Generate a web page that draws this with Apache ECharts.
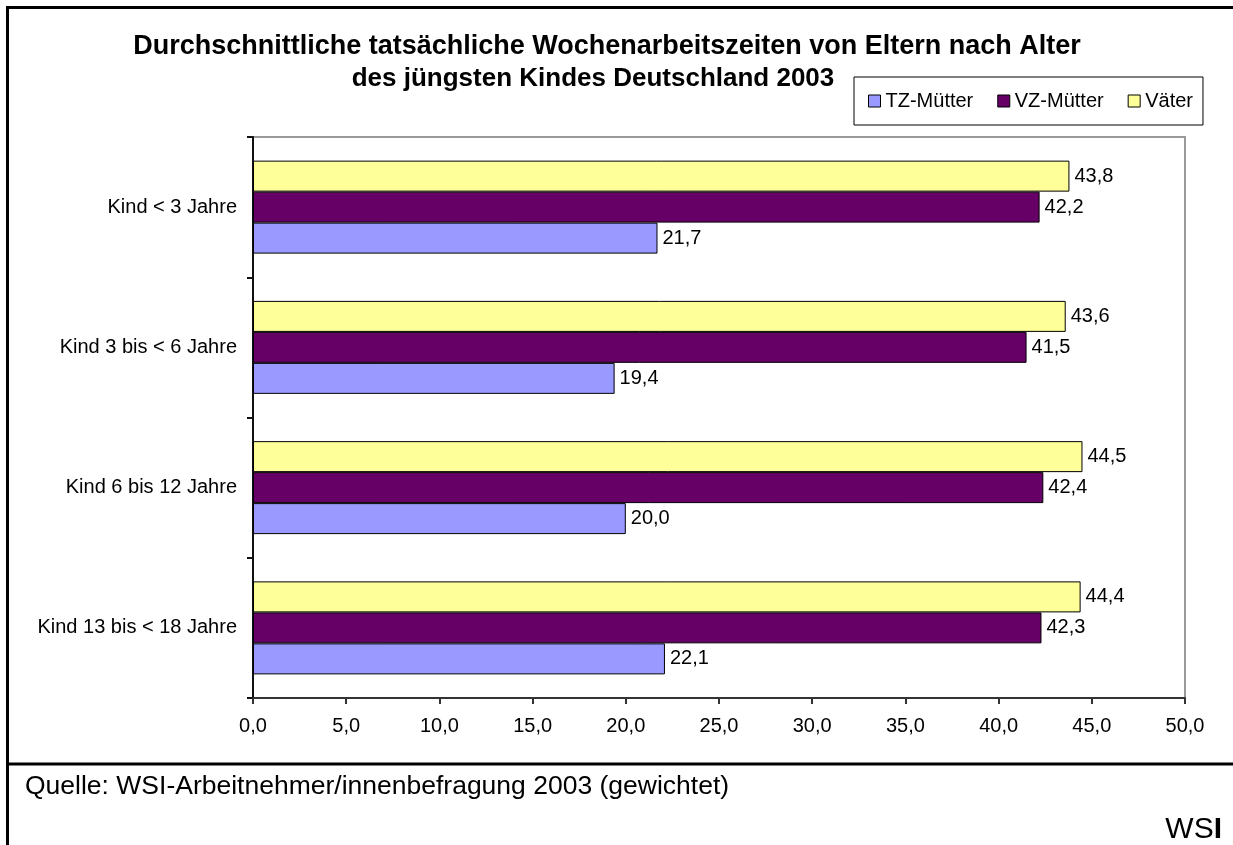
<!DOCTYPE html>
<html>
<head>
<meta charset="utf-8">
<title>Wochenarbeitszeiten von Eltern 2003</title>
<script src="https://cdn.jsdelivr.net/npm/echarts@6/dist/echarts.min.js"></script>
<style>
  html,body{margin:0;padding:0;background:#fff;}
  #chart{width:1233px;height:845px;}
</style>
</head>
<body>
<div id="chart"></div>
<script>
// Daten
const categories=['Kind < 3 Jahre','Kind 3 bis < 6 Jahre','Kind 6 bis 12 Jahre','Kind 13 bis < 18 Jahre']
const tzMuetter=[21.7,19.4,20.0,22.1]
const vzMuetter=[42.2,41.5,42.4,42.3]
const vaeter=[43.8,43.6,44.5,44.4]
const legendNames=['TZ-Mütter','VZ-Mütter','Väter']
const xTicks=[0,5,10,15,20,25,30,35,40,45,50]

const font='"Liberation Sans", Arial, sans-serif'
const fmt=v=>Number(v).toFixed(1).replace('.',',')

let chartInstance=echarts.init(document.getElementById('chart'))

let labelStyle={
  show:true,
  position:'right',
  distance:5,
  color:'#000',
  fontSize:20,
  fontFamily:font,
  formatter:p=>fmt(p.value)
}

let option={
  backgroundColor:'#fff',
  animation:false,
  grid:{
    left:253,
    right:48,
    top:137,
    bottom:147,
    show:true,
    borderColor:'#999',
    borderWidth:2
  },
  legend:{
    data:legendNames,
    left:854,
    top:77,
    padding:[14,10,14,14],
    itemGap:24,
    itemWidth:12,
    itemHeight:12,
    icon:'rect',
    borderColor:'#000',
    borderWidth:1,
    itemStyle:{borderColor:'#000',borderWidth:1},
    textStyle:{fontSize:20,fontFamily:font,color:'#000',lineHeight:20}
  },
  xAxis:{
    type:'value',
    min:xTicks[0],
    max:xTicks[xTicks.length-1],
    interval:xTicks[1]-xTicks[0],
    axisLine:{show:true,lineStyle:{color:'#333',width:2}},
    axisTick:{show:true,length:6,lineStyle:{color:'#333',width:2}},
    splitLine:{show:false},
    axisLabel:{fontSize:20,fontFamily:font,color:'#000',margin:18,formatter:fmt}
  },
  yAxis:{
    type:'category',
    inverse:true,
    data:categories,
    axisLine:{show:true,lineStyle:{color:'#111',width:2}},
    axisTick:{show:true,length:6,lineStyle:{color:'#111',width:2}},
    axisLabel:{fontSize:20,fontFamily:font,color:'#000',margin:16}
  },
  // erste Serie liegt oben in der Gruppe
  series:[
    {
      name:'Väter',
      type:'bar',
      data:vaeter,
      barGap:'0%',
      barCategoryGap:'33.7%',
      itemStyle:{color:'#FFFF99',borderColor:'#000',borderWidth:1},
      label:labelStyle
    },
    {
      name:'VZ-Mütter',
      type:'bar',
      data:vzMuetter,
      barGap:'0%',
      barCategoryGap:'33.7%',
      itemStyle:{color:'#660066',borderColor:'#000',borderWidth:1},
      label:labelStyle
    },
    {
      name:'TZ-Mütter',
      type:'bar',
      data:tzMuetter,
      barGap:'0%',
      barCategoryGap:'33.7%',
      itemStyle:{color:'#9999FF',borderColor:'#000',borderWidth:1},
      label:labelStyle
    }
  ],
  graphic:[
    // Rahmen links und oben
    {type:'line',shape:{x1:7.5,y1:7,x2:7.5,y2:845},style:{stroke:'#000',lineWidth:3}},
    {type:'line',shape:{x1:6,y1:7.5,x2:1233,y2:7.5},style:{stroke:'#000',lineWidth:3}},
    // Trennlinie über der Quelle
    {type:'line',shape:{x1:6,y1:764,x2:1233,y2:764},style:{stroke:'#000',lineWidth:3}},
    {
      type:'text',x:607,y:47,
      style:{text:'Durchschnittliche tatsächliche Wochenarbeitszeiten von Eltern nach Alter',
        font:'bold 27px '+font,fill:'#000',textAlign:'center',textVerticalAlign:'middle'}
    },
    {
      type:'text',x:593,y:79,
      style:{text:'des jüngsten Kindes Deutschland 2003',
        font:'bold 26px '+font,fill:'#000',textAlign:'center',textVerticalAlign:'middle'}
    },
    {
      type:'text',x:25,y:787,
      style:{text:'Quelle: WSI-Arbeitnehmer/innenbefragung 2003 (gewichtet)',
        font:'26.5px '+font,fill:'#000',textVerticalAlign:'middle'}
    },
    {
      type:'text',x:1222,y:830,
      style:{
        text:'{a|WS}{b|I}',
        textAlign:'right',
        textVerticalAlign:'middle',
        rich:{
          a:{fontSize:30,fontFamily:font,fill:'#000',color:'#000'},
          b:{fontSize:30,fontFamily:font,fontWeight:'bold',fill:'#000',color:'#000'}
        }
      }
    }
  ]
}
chartInstance.setOption(option)
</script>
</body>
</html>
